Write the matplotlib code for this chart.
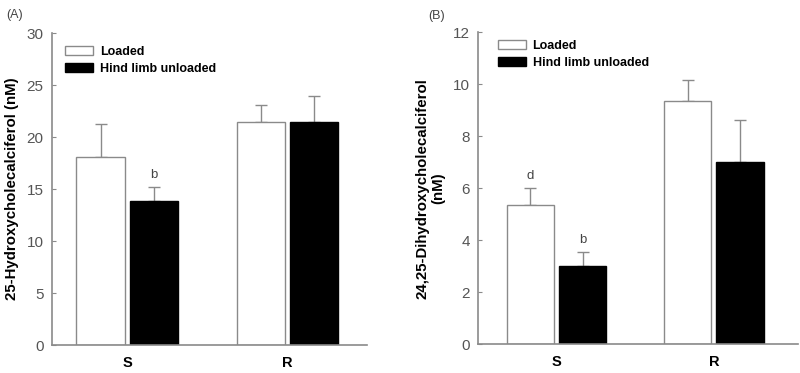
import matplotlib
matplotlib.use("Agg")
import matplotlib.pyplot as plt
import numpy as np

plt.rcParams['font.family'] = ['Liberation Sans', 'DejaVu Sans']

categories = ["S", "R"]
legend_labels = ["Loaded", "Hind limb unloaded"]

a_loaded = [18.05, 21.45]
a_loaded_err = [3.2, 1.65]
a_unloaded = [13.85, 21.4]
a_unloaded_err = [1.35, 2.55]
a_marks_loaded = ["", ""]
a_marks_unloaded = ["b", ""]

b_loaded = [5.35, 9.35]
b_loaded_err = [0.68, 0.83]
b_unloaded = [3.02, 7.03]
b_unloaded_err = [0.54, 1.62]
b_marks_loaded = ["d", ""]
b_marks_unloaded = ["b", ""]

GRAY = "#8a8a8a"
TXT = "#555555"

fig = plt.figure(figsize=(8, 3.73), dpi=100)

def panel(rect, loaded, lerr, unloaded, uerr, mloaded, munloaded, ymax, ystep,
          ylabel, tag, xlim, legend_xy, tag_xy, ylabel_x):
    ax = fig.add_axes(rect)
    x = np.arange(len(categories))
    w = 0.30
    off = 0.166
    ax.bar(x - off, loaded, w, color="white", edgecolor=GRAY, linewidth=1.0,
           label=legend_labels[0], zorder=2)
    ax.bar(x + off, unloaded, w, color="black", edgecolor="black", linewidth=1.0,
           label=legend_labels[1], zorder=2)
    ax.errorbar(x - off, loaded, yerr=[np.zeros(len(lerr)), lerr], fmt="none",
                ecolor=GRAY, elinewidth=1.0, capsize=4, capthick=1.0, zorder=1)
    ax.errorbar(x + off, unloaded, yerr=[np.zeros(len(uerr)), uerr], fmt="none",
                ecolor=GRAY, elinewidth=1.0, capsize=4, capthick=1.0, zorder=1)
    pad = ymax * 0.018
    for i in range(len(categories)):
        if mloaded[i]:
            ax.text(x[i] - off, loaded[i] + lerr[i] + pad, mloaded[i], ha="center",
                    va="bottom", fontsize=9.5, color="#444444")
        if munloaded[i]:
            ax.text(x[i] + off, unloaded[i] + uerr[i] + pad, munloaded[i], ha="center",
                    va="bottom", fontsize=9.5, color="#444444")
    ax.set_xlim(*xlim)
    ax.set_ylim(0, ymax)
    ax.set_yticks(np.arange(0, ymax + 0.001, ystep))
    ax.set_xticks(x)
    ax.set_xticklabels(categories, fontweight="bold", fontsize=10.5)
    ax.tick_params(axis="x", length=0, pad=8)
    ax.tick_params(axis="y", direction="in", length=3, color=GRAY, labelsize=11,
                   labelcolor=TXT, pad=6)
    for s in ["top", "right"]:
        ax.spines[s].set_visible(False)
    for s in ["left", "bottom"]:
        ax.spines[s].set_color(GRAY)
        ax.spines[s].set_linewidth(1.2)
    ax.set_ylabel(ylabel, fontweight="bold", fontsize=10.8, linespacing=1.1)
    ax.yaxis.set_label_coords(ylabel_x, 0.5)
    ax.legend(loc="upper left", bbox_to_anchor=legend_xy, frameon=False,
              prop={"weight": "bold", "size": 9},
              handlelength=2.25, handleheight=0.75, labelspacing=0.4,
              handletextpad=0.55, borderaxespad=0, borderpad=0)
    fig.text(tag_xy[0], tag_xy[1], tag, fontsize=9, color="#444444")
    return ax

panel([0.065, 0.075, 0.394, 0.8365], a_loaded, a_loaded_err, a_unloaded, a_unloaded_err,
      a_marks_loaded, a_marks_unloaded, 30, 5, "25-Hydroxycholecalciferol (nM)", "(A)",
      (-0.469, 1.5), (0.041, 0.958), (0.008, 0.953), -0.105)
panel([0.598, 0.077, 0.3995, 0.836], b_loaded, b_loaded_err, b_unloaded, b_unloaded_err,
      b_marks_loaded, b_marks_unloaded, 12, 2, "24,25-Dihydroxycholecalciferol\n(nM)", "(B)",
      (-0.496, 1.534), (0.06, 0.975), (0.535, 0.948), -0.105)

fig.savefig("out.png", dpi=100, facecolor="white")
